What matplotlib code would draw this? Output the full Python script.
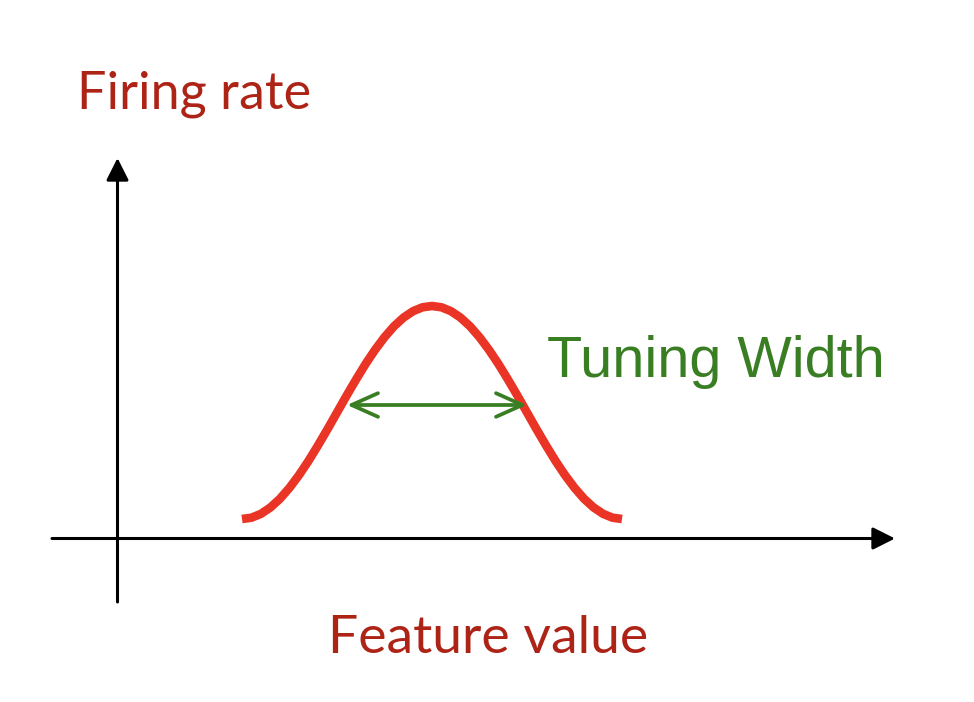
import matplotlib.pyplot as plt

# tuning curve (feature value vs firing rate, arbitrary units)
feature = [124.5, 134.0, 143.5, 153.0, 162.5, 172.0, 181.5, 191.0, 200.5, 210.0,
           219.5, 229.0, 238.5, 248.0, 257.5, 267.0, 276.5, 286.0, 295.5, 305.0,
           314.5, 324.0, 333.5, 343.0, 352.5, 362.0, 371.5, 381.0, 390.5, 400.0,
           409.5, 419.0, 428.5, 438.0, 447.5, 457.0, 466.5, 476.0, 485.5, 495.0,
           504.5]
rate = [19.5, 20.8, 24.7, 31.1, 39.8, 50.7, 63.4, 77.6, 93.1, 109.3,
        126.0, 142.7, 158.9, 174.4, 188.6, 201.3, 212.2, 220.9, 227.3, 231.2,
        232.5, 231.2, 227.3, 220.9, 212.2, 201.3, 188.6, 174.4, 158.9, 142.7,
        126.0, 109.3, 93.1, 77.6, 63.4, 50.7, 39.8, 31.1, 24.7, 20.8,
        19.5]

# half-width marker
width_start = 229.5
width_end = 409.5
width_level = 133.5

red_text = '#AD2417'
curve_red = '#EA3526'
green = '#3A7E24'

fig = plt.figure(figsize=(9.74, 7.02), dpi=100)
ax = fig.add_axes([0, 0, 1, 1])
ax.set_xlim(-117.5, 856.5)
ax.set_ylim(-163.5, 538.5)
ax.axis('off')

# axes drawn as arrows
ax.annotate('', xy=(0, 380.5), xytext=(0, -63.5),
            arrowprops=dict(arrowstyle='-|>,head_length=1.35,head_width=0.68',
                            lw=2.2, color='black', shrinkA=0, shrinkB=0))
ax.annotate('', xy=(777.5, 0), xytext=(-65.5, 0),
            arrowprops=dict(arrowstyle='-|>,head_length=1.35,head_width=0.68',
                            lw=2.2, color='black', shrinkA=0, shrinkB=0))

ax.plot(feature, rate, color=curve_red, lw=6.2, solid_capstyle='butt',
        solid_joinstyle='round')

ax.annotate('', xy=(width_end, width_level), xytext=(width_start, width_level),
            arrowprops=dict(arrowstyle='<->,head_length=1.9,head_width=0.85',
                            lw=2.7, color=green, shrinkA=0, shrinkB=0))

ax.text(-40.5, 430.5, 'Firing rate', color=red_text, fontsize=37.5,
        family='Lato', va='baseline', ha='left')
ax.text(210.5, -114.5, 'Feature value', color=red_text, fontsize=38.5,
        family='Lato', va='baseline', ha='left')
ax.text(429.5, 161.5, 'Tuning Width', color=green, fontsize=41.5,
        family='Liberation Sans', va='baseline', ha='left')

fig.savefig('out.png', dpi=100, facecolor='white')
